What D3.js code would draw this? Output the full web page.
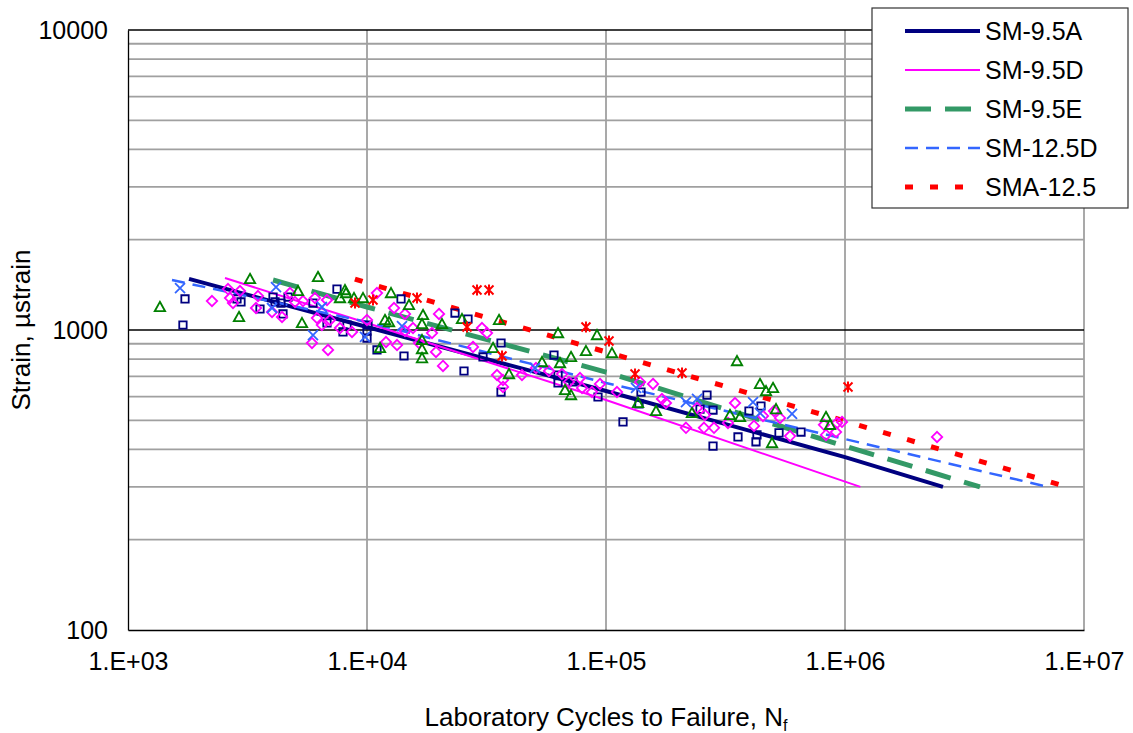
<!DOCTYPE html>
<html><head><meta charset="utf-8">
<script src="https://cdn.jsdelivr.net/npm/d3@7/dist/d3.min.js"></script>
<style>body{margin:0;background:#fff}svg{display:block}text{font-family:"Liberation Sans",Arial,sans-serif;fill:#000}</style>
</head><body><svg id="chart" width="1133" height="733"></svg>
<script>
// ---------- data ----------
const seriesNames = ["SM-9.5A", "SM-9.5D", "SM-9.5E", "SM-12.5D", "SMA-12.5"];
const xTickValues = [1e3, 1e4, 1e5, 1e6, 1e7];
const xTickLabels = ["1.E+03", "1.E+04", "1.E+05", "1.E+06", "1.E+07"];
const yTickValues = [100, 1000, 10000];
const yTickLabels = ["100", "1000", "10000"];
const xTitle = "Laboratory Cycles to Failure, N";
const xTitleSub = "f";
const yTitle = "Strain, \u00b5strain";

// fitted lines [cycles, strain]
const fitSM95A = [[1800, 1480], [1e4, 1023], [1e5, 626], [1e6, 377], [2.57e6, 300]];
const fitSM95D = [[2546, 1490], [1e4, 1055], [1e5, 584], [1.16e6, 300]];
const fitSM95E = [[4045, 1468], [1e4, 1193], [1e5, 724], [1e6, 410], [3.67e6, 300]];
const fitSM125D = [[1528, 1468], [1e4, 1063], [1e5, 666], [1e6, 433], [7.06e6, 300]];
const fitSMA125 = [[8900, 1479], [1e4, 1435], [1e5, 845], [1e6, 497], [8.49e6, 300]];

// measured points [cycles, strain]
const ptsSM95A = [[1732,1269],[1698,1039],[2858,1269],[2970,1240],[3567,1175],[4044,1288],[4122,1240],
  [4367,1230],[4452,1131],[4673,1288],[5943,1230],[6801,1055],[7489,1369],[8250,1039],[7935,985],
  [10097,1039],[10000,992],[10000,940],[11010,858],[13880,1269],[14282,819],[23350,1139],[26462,1088],
  [25462,730],[30576,813],[36374,905],[36374,621],[60580,825],[63000,708],[63000,666],[72770,671],
  [92590,598],[140100,621],[137460,567],[117800,494],[264600,607],[247400,545],[280400,541],[396500,537],
  [445100,558],[356700,440],[428300,447],[424200,424],[280400,410],[529600,454],[654600,457]];
const ptsSM95D = [[2246,1249],[2621,1369],[2942,1349],[2673,1278],[2750,1230],[3499,1298],[3433,1184],
  [4005,1148],[4410,1105],[4763,1328],[4997,1240],[5398,1249],[6058,1278],[6177,1096],[6476,1039],
  [6801,1259],[5886,905],[6868,858],[7002,1080],[7709,1015],[8655,985],[10000,1080],[11010,1328],
  [12974,1184],[14421,1131],[20010,1131],[18707,977],[15578,1015],[14421,992],[12009,912],[13354,891],
  [16506,905],[19439,845],[20796,759],[27765,878],[30280,1015],[31776,977],[34995,708],[37068,681],
  [37068,646],[44510,708],[50940,747],[57730,730],[65460,713],[70020,671],[77860,692],[79380,641],
  [87370,621],[94380,661],[111170,621],[138800,671],[157300,661],[171500,589],[178200,571],[240400,550],
  [259500,521],[346600,571],[216100,472],[257000,472],[283100,472],[323900,490],[416100,479],[453800,517],
  [504700,537],[534600,509],[588900,443],[816800,483],[832700,447],[917000,457],[925900,490],[971400,494],
  [2427000,440]];
const ptsSM95E = [[1360,1193],[3240,1479],[2914,1105],[5144,1349],[6237,1502],[5346,1055],[8090,1359],
  [8169,1328],[7709,1278],[8823,1278],[9623,1278],[12603,1328],[14985,1212],[17154,1122],[16990,1047],
  [20596,1047],[24975,1088],[11892,1080],[12364,1063],[11334,871],[16990,926],[16990,864],[16990,806],
  [35678,1080],[33677,871],[39275,713],[63000,977],[91700,962],[82450,851],[105950,838],[53980,782],
  [64210,776],[71390,813],[67390,631],[71390,607],[353300,788],[440900,661],[467300,626],[499800,641],
  [136150,571],[161900,537],[228900,529],[330200,521],[363700,513],[495100,420],[514500,545],[832700,513],
  [865500,483]];
const ptsSM125D = [[1651,1380],[4162,1390],[4005,1184],[5943,962],[6476,1193],[9808,948],[14010,1031],
  [50450,747],[133550,641],[216100,575],[240400,589],[412100,575],[440900,529],[600300,525]];
const ptsSMA125 = [[8909,1230],[10595,1259],[16190,1278],[28860,1359],[32396,1359],[26207,1023],
  [36728,819],[82450,1023],[102940,919],[132270,713],[208000,719],[1029400,646]];

// ---------- styles ----------
const styles = [
  {fit: fitSM95A, pts: ptsSM95A, color: "#000080", width: 4, dash: null, marker: "square", mcolor: "#000080"},
  {fit: fitSM95D, pts: ptsSM95D, color: "#ff00ff", width: 2, dash: null, marker: "diamond", mcolor: "#ff00ff"},
  {fit: fitSM95E, pts: ptsSM95E, color: "#339966", width: 5, dash: "26,14", marker: "triangle", mcolor: "#008000"},
  {fit: fitSM125D, pts: ptsSM125D, color: "#3366ff", width: 2.5, dash: "13,8", marker: "cross", mcolor: "#3366ff"},
  {fit: fitSMA125, pts: ptsSMA125, color: "#ff0000", width: 5, dash: "8,17", marker: "star", mcolor: "#ff0000"}
];

const L = 128, R = 1084, T = 30, B = 630;
const svg = d3.select("#chart");
const x = d3.scaleLog().domain([1e3, 1e7]).range([L, R]);
const y = d3.scaleLog().domain([100, 10000]).range([B, T]);

// gridlines
const minorY = [];
[100, 1000].forEach(d => { for (let k = 2; k <= 9; k++) minorY.push(d * k); });
svg.append("g").selectAll("line").data(minorY).join("line")
  .attr("x1", L).attr("x2", R).attr("y1", d => y(d)).attr("y2", d => y(d))
  .attr("stroke", "#a0a0a0").attr("stroke-width", 1.8);
svg.append("g").selectAll("line").data([1e4, 1e5, 1e6, 1e7]).join("line")
  .attr("x1", d => x(d)).attr("x2", d => x(d)).attr("y1", T).attr("y2", B)
  .attr("stroke", "#a0a0a0").attr("stroke-width", 1.8);
svg.append("g").selectAll("line").data([1000, 10000]).join("line")
  .attr("x1", L).attr("x2", R).attr("y1", d => y(d)).attr("y2", d => y(d))
  .attr("stroke", "#000").attr("stroke-width", 1.3);

// axes
const xAxis = d3.axisBottom(x).tickValues(xTickValues).tickFormat((d, i) => xTickLabels[i]).tickSize(0).tickPadding(22);
const gx = svg.append("g").attr("transform", `translate(0,${B})`).call(xAxis);
gx.select(".domain").attr("stroke", "#000").attr("stroke-width", 1.3);
gx.selectAll("text").attr("font-size", 25).attr("font-family", "Liberation Sans, Arial, sans-serif");
const yAxis = d3.axisLeft(y).tickValues(yTickValues).tickFormat((d, i) => yTickLabels[i]).tickSize(0).tickPadding(20);
const gy = svg.append("g").attr("transform", `translate(${L},0)`).call(yAxis);
gy.select(".domain").attr("stroke", "#000").attr("stroke-width", 1.3);
gy.selectAll("text").attr("font-size", 25).attr("font-family", "Liberation Sans, Arial, sans-serif");

// fitted lines
const line = d3.line().x(d => x(d[0])).y(d => y(d[1]));
const lines = svg.append("g");
styles.forEach(s => {
  lines.append("path").datum(s.fit).attr("d", line).attr("fill", "none")
    .attr("stroke", s.color).attr("stroke-width", s.width)
    .attr("stroke-dasharray", s.dash);
});

// markers
function markerPath(type) {
  switch (type) {
    case "square": return "M-3.7,-3.7H3.7V3.7H-3.7Z";
    case "diamond": return "M0,-5.2L5.2,0L0,5.2L-5.2,0Z";
    case "triangle": return "M0,-5.2L5.2,4.2H-5.2Z";
    case "cross": return "M-5,-5L5,5M5,-5L-5,5";
    case "star": return "M-4.5,-4.5L4.5,4.5M4.5,-4.5L-4.5,4.5M0,-5.5V5.5";
  }
}
styles.forEach(s => {
  svg.append("g").selectAll("path").data(s.pts).join("path")
    .attr("transform", d => `translate(${x(d[0])},${y(d[1])})`)
    .attr("d", markerPath(s.marker)).attr("fill", "none")
    .attr("stroke", s.mcolor).attr("stroke-width", s.marker === "star" ? 2 : 1.8);
});

// axis titles
const xt = svg.append("text").attr("x", (L + R) / 2).attr("y", 726).attr("text-anchor", "middle").attr("font-size", 26);
xt.append("tspan").text(xTitle);
xt.append("tspan").text(xTitleSub).attr("font-size", 16).attr("dy", 5);
svg.append("text").attr("transform", `translate(30,${(T + B) / 2}) rotate(-90)`)
  .attr("text-anchor", "middle").attr("font-size", 26).text(yTitle);

// legend
const lg = svg.append("g");
lg.append("rect").attr("x", 872).attr("y", 8).attr("width", 256).attr("height", 200)
  .attr("fill", "#fff").attr("stroke", "#333").attr("stroke-width", 1.2);
styles.forEach((s, i) => {
  const yy = 31 + i * 39;
  lg.append("line").attr("x1", 905).attr("x2", 980).attr("y1", yy).attr("y2", yy)
    .attr("stroke", s.color).attr("stroke-width", s.width).attr("stroke-dasharray", s.dash);
  lg.append("text").attr("x", 985).attr("y", yy + 9).attr("font-size", 25).text(seriesNames[i]);
});
</script></body></html>
